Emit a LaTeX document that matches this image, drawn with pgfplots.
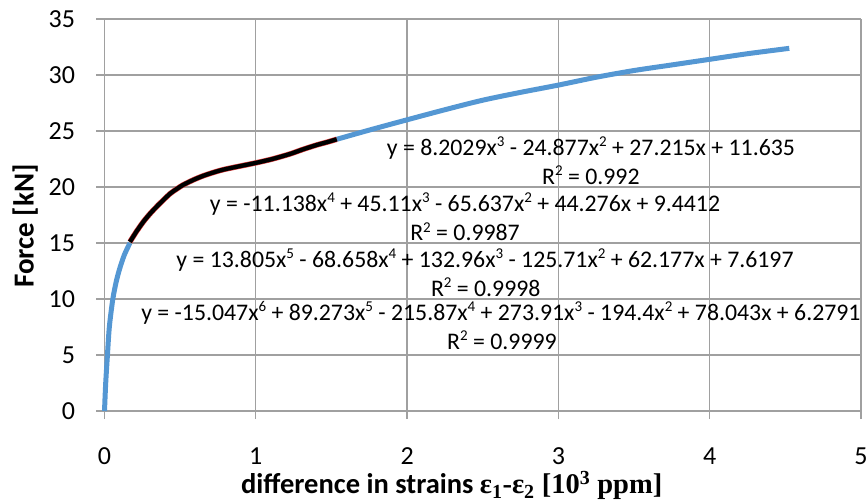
\documentclass[border=0pt]{standalone}
\usepackage{pgfplots}
\pgfplotsset{compat=1.18}
\usepackage{fontspec}
\setmainfont{Carlito}
\newfontfamily\tnr{Liberation Serif}
\newcommand\sups[1]{\raisebox{0.36em}{\fontsize{15bp}{15bp}\selectfont #1}}
\definecolor{xlblue}{RGB}{84,151,211}
\definecolor{gridgray}{RGB}{160,160,160}
\definecolor{tred}{RGB}{220,60,60}
\pgfplotstableread{
x y
0 0
0.008 2.5
0.019 4.9
0.032 7.5
0.054 9.9
0.075 11.4
0.098 12.6
0.13 13.9
0.168 15.0
}\bluea
\pgfplotstableread{
x y
0.168 15.1
0.21 16.0
0.257 16.9
0.30 17.6
0.345 18.25
0.39 18.85
0.433 19.4
0.48 19.85
0.521 20.2
0.59 20.65
0.653 21.0
0.72 21.3
0.785 21.55
0.89 21.85
0.999 22.15
1.11 22.5
1.226 22.95
1.31 23.35
1.402 23.75
1.47 24.0
1.535 24.26
}\blackd
\pgfplotstableread{
x y
1.535 24.26
1.755 25.1
2 26.0
2.25 26.9
2.5 27.75
2.75 28.45
3 29.1
3.25 29.8
3.5 30.4
3.75 30.9
4 31.4
4.25 31.9
4.526 32.38
}\blueb
\begin{document}
\begin{tikzpicture}
\path[use as bounding box] (-104.5bp,-92bp) rectangle (763.5bp,411bp);
\begin{axis}[
  at={(0,0)}, anchor=south west,
  scale only axis, width=756.5bp, height=392bp,
  xmin=0, xmax=5, ymin=0, ymax=35,
  xtick={0,1,2,3,4,5}, ytick={0,5,...,35},
  grid=major,
  major grid style={gridgray, line width=1.3bp},
  axis line style={gridgray, line width=1.3bp},
  tick style={gridgray, line width=1.3bp},
  tick align=outside, major tick length=8bp,
  axis x line*=bottom, axis y line*=left,
  /pgf/number format/assume math mode=true,
  tick label style={font=\fontsize{26bp}{30bp}\selectfont, text=black},
  yticklabel style={xshift=-18bp},
  xticklabel style={yshift=-25bp},
  ylabel={\bfseries Force [kN]},
  ylabel style={font=\fontsize{29bp}{33bp}\selectfont, at={(axis description cs:-0.105,0.472)}, anchor=center},
  xlabel={\bfseries difference in strains {\tnr ε\textsubscript{1}-ε\textsubscript{2} [10\textsuperscript{3} ppm]}},
  xlabel style={font=\fontsize{28.5bp}{33bp}\selectfont, at={(axis description cs:0.459,-0.191)}, anchor=center},
  clip=false,
]
\addplot[xlblue, line width=5bp, line join=round, smooth] table {\bluea};
\addplot[xlblue, line width=5bp, line join=round, smooth] table {\blueb};
\addplot[tred, line width=5.4bp, line join=round, smooth] table {\blackd};
\addplot[black, line width=4.3bp, line join=round, smooth] table {\blackd};
\begin{scope}[every node/.style={font=\fontsize{23.8bp}{27bp}\selectfont, inner sep=0pt, anchor=center}]
\node at (axis cs:3.215,23.5) {y = 8.2029x\sups{3} - 24.877x\sups{2} + 27.215x + 11.635};
\node at (axis cs:3.215,21.07) {R\sups{2} = 0.992};
\node at (axis cs:2.383,18.48) {y = -11.138x\sups{4} + 45.11x\sups{3} - 65.637x\sups{2} + 44.276x + 9.4412};
\node at (axis cs:2.383,16.0) {R\sups{2} = 0.9987};
\node at (axis cs:2.515,13.48) {y = 13.805x\sups{5} - 68.658x\sups{4} + 132.96x\sups{3} - 125.71x\sups{2} + 62.177x + 7.6197};
\node at (axis cs:2.52,11.07) {R\sups{2} = 0.9998};
\node at (axis cs:2.62,8.78) {y = -15.047x\sups{6} + 89.273x\sups{5} - 215.87x\sups{4} + 273.91x\sups{3} - 194.4x\sups{2} + 78.043x + 6.2791};
\node at (axis cs:2.627,6.34) {R\sups{2} = 0.9999};
\end{scope}
\end{axis}
\end{tikzpicture}
\end{document}
